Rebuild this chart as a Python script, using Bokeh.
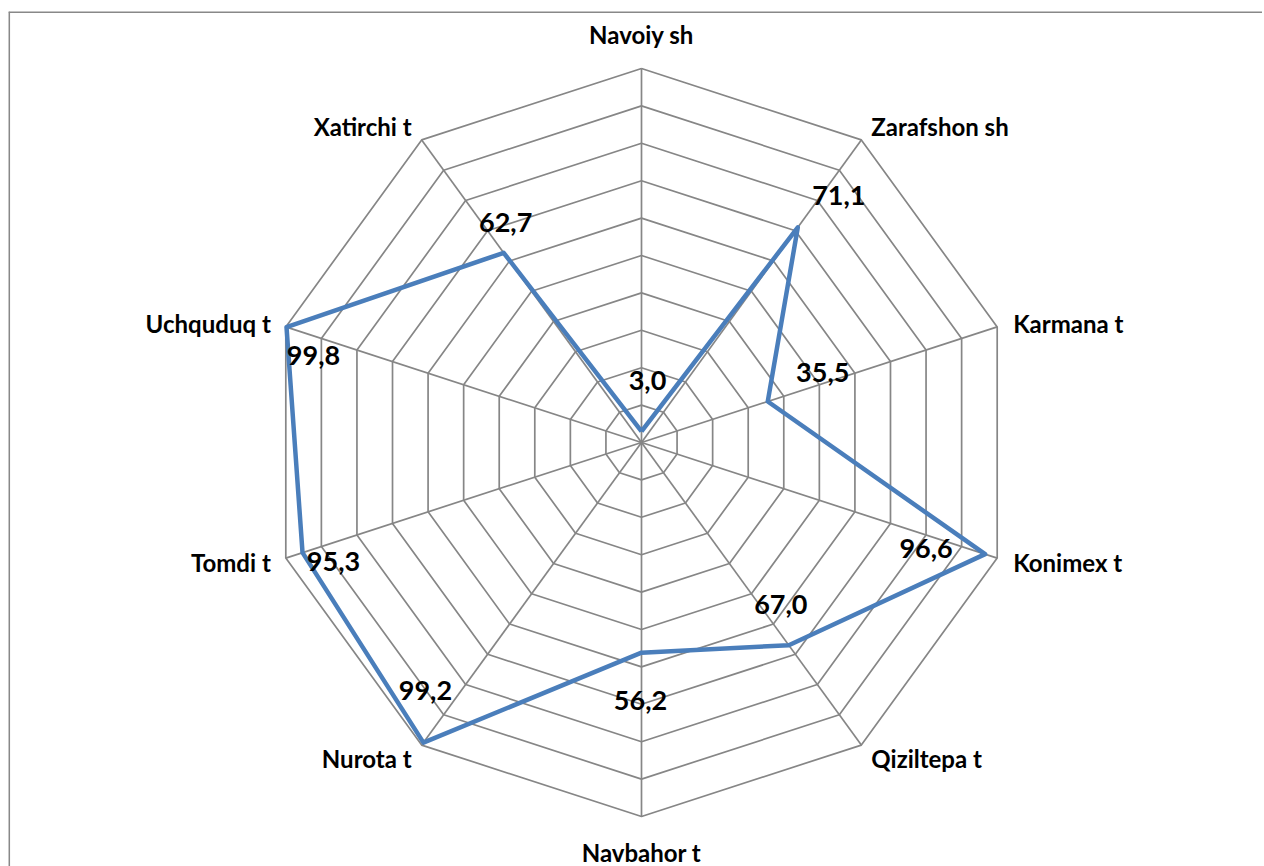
import numpy as np
from bokeh.plotting import figure
from bokeh.models import ColumnDataSource, Range1d, Span
from bokeh.core.properties import value
from bokeh.embed import file_html
from bokeh.resources import INLINE

# ---- data ----
categories = ["Navoiy sh", "Zarafshon sh", "Karmana t", "Konimex t", "Qiziltepa t",
              "Navbahor t", "Nurota t", "Tomdi t", "Uchquduq t", "Xatirchi t"]
values = [3.0, 71.1, 35.5, 96.6, 67.0, 56.2, 99.2, 95.3, 99.8, 62.7]
value_labels = ["3,0", "71,1", "35,5", "96,6", "67,0", "56,2", "99,2", "95,3", "99,8", "62,7"]
ring_max = 100
ring_step = 10

# ---- style: label offsets in screen pixels (y down) ----
cat_dx = [0, 10, 16, 16, 10, 0, -10, -15, -15, -10]
cat_dy = [-34, -13, -3, 4, 13, 36, 13, 4, -3, -13]
cat_align = ["center", "left", "left", "left", "left", "center", "right", "right", "right", "right"]
val_dx = [6, 41, 55, -59, -8, -1, 2, 31, 27, 2]
val_dy = [-51, -32, -29, -6, -41, 48, -52, 9, 28, -30]

GRID = "#868686"
BLUE = "#4A7EBB"
FONT = "Lato"

n = len(categories)
ang = np.pi / 2 - 2 * np.pi * np.arange(n) / n  # clockwise from top
cosA, sinA = np.cos(ang), np.sin(ang)

scale = 3.74  # px per unit
W, H = 1262, 866
pad_left, pad_top = 8, 11
fw, fh = W - pad_left, H - pad_top
cx, cy = 633, 431
x_range = Range1d(-cx / scale, (fw - cx) / scale)
y_range = Range1d(-(fh - cy) / scale, cy / scale)

p = figure(width=W, height=H, x_range=x_range, y_range=y_range,
           output_backend="svg", toolbar_location=None,
           min_border_left=pad_left, min_border_right=0, min_border_bottom=0,
           min_border_top=pad_top)
p.axis.visible = False
p.grid.visible = False
p.outline_line_color = None
p.background_fill_color = "white"
p.border_fill_color = "white"

# rings
rx, ry = [], []
for r in range(ring_step, ring_max + 1, ring_step):
    rx.append(list(np.append(r * cosA, r * cosA[0])))
    ry.append(list(np.append(r * sinA, r * sinA[0])))
p.multi_line(rx, ry, line_color=GRID, line_width=1.7)
# spokes
p.segment(x0=np.zeros(n), y0=np.zeros(n), x1=ring_max * cosA, y1=ring_max * sinA,
          line_color=GRID, line_width=1.7)

# series
vals = np.array(values)
sx = vals * cosA
sy = vals * sinA
p.line(np.append(sx, sx[0]), np.append(sy, sy[0]), line_color=BLUE, line_width=4.5,
       line_join="round")

# data labels
vsrc = ColumnDataSource(dict(x=sx, y=sy, t=value_labels, dx=val_dx, dy=val_dy))
p.text(x="x", y="y", text="t", x_offset="dx", y_offset="dy", source=vsrc,
       text_font=value(FONT), text_font_style="bold", text_font_size="27px",
       text_align="center", text_baseline="middle", text_color="black")

# category labels
csrc = ColumnDataSource(dict(x=ring_max * cosA, y=ring_max * sinA, t=categories,
                             dx=cat_dx, dy=cat_dy, a=cat_align))
p.text(x="x", y="y", text="t", x_offset="dx", y_offset="dy", text_align="a",
       source=csrc, text_font=value(FONT), text_font_style="bold",
       text_font_size="24px", text_baseline="middle", text_color="black")

# chart-area border (top and left visible)
p.add_layout(Span(location=x_range.start + 0.15, dimension="height",
                  line_color="#888888", line_width=2))
p.add_layout(Span(location=y_range.end - 0.15, dimension="width",
                  line_color="#888888", line_width=2))

open("out.html", "w").write(file_html(p, INLINE))
